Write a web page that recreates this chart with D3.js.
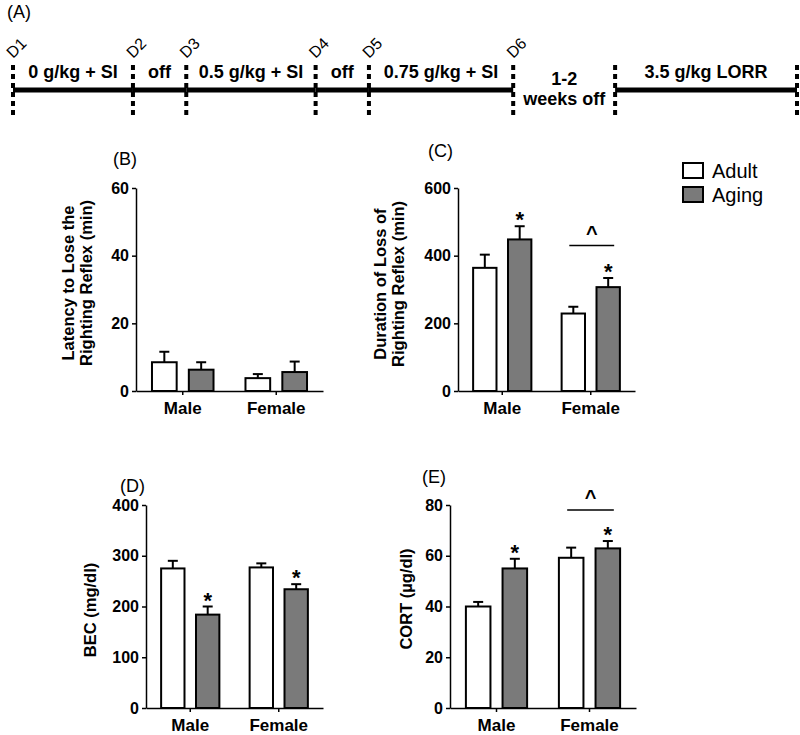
<!DOCTYPE html>
<html>
<head>
<meta charset="utf-8">
<script src="https://cdn.jsdelivr.net/npm/d3@7"></script>
<style>
  body { margin: 0; background: #fff; }
  text { font-family: Arial, "Liberation Sans", sans-serif; fill: #000; font-weight: bold; }
  .tick text { font-size: 16px; }
  .xAxis .tick text { font-size: 17px; }
</style>
</head>
<body>
<svg id="fig" width="800" height="735"></svg>
<script>
// ---- data ----
const sexes = ['Male', 'Female']
const ages = ['Adult', 'Aging']

// [adult, aging] for each sex
const latencyMean = [[8.5, 6.3], [3.8, 5.6]]
const latencySem = [[3.1, 2.2], [1.2, 3.1]]
const latencyStar = [[0, 0], [0, 0]]

const durationMean = [[364, 448], [229, 307]]
const durationSem = [[39, 39], [20, 27]]
const durationStar = [[0, 1], [0, 1]]
const durationBracket = ['Female', 430]

const becMean = [[275, 184], [277, 234]]
const becSem = [[15, 16], [8, 10]]
const becStar = [[0, 1], [0, 1]]

const cortMean = [[40, 55], [59.2, 62.9]]
const cortSem = [[1.8, 3.8], [4, 2.9]]
const cortStar = [[0, 1], [0, 1]]
const cortBracket = ['Female', 78]

// timeline (A): stops in percent of the line length
const dayLabels = ['D1', 'D2', 'D3', 'D4', 'D5', 'D6']
const timeStops = [0, 15.3, 22.1, 38.6, 45.4, 63.8, 76.8, 100]
const timeSegments = ['0 g/kg + SI', 'off', '0.5 g/kg + SI', 'off', '0.75 g/kg + SI', '1-2|weeks off', '3.5 g/kg LORR']
const solidSegments = [1, 1, 1, 1, 1, 0, 1]

const ageColor = d3.scaleOrdinal().domain(ages).range(['#ffffff', '#7a7a7a'])

const svg = d3.select('#fig')

// ---- panel A ----
function timeline() {
  const t = d3.scaleLinear().domain([0, 100]).range([13, 797])
  const g = svg.append('g')

  g.append('text').attr('x', 7).attr('y', 18).style('font-size', '18px').style('font-weight', 'normal').text('(A)')

  g.selectAll('line.seg')
    .data(timeSegments.map((d, i) => i).filter(i => solidSegments[i]))
    .enter().append('line')
    .attr('class', 'seg')
    .attr('x1', i => t(timeStops[i]))
    .attr('x2', i => t(timeStops[i + 1]))
    .attr('y1', 90).attr('y2', 90)
    .attr('stroke', '#000').attr('stroke-width', 5)

  g.selectAll('line.stop')
    .data(timeStops)
    .enter().append('line')
    .attr('class', 'stop')
    .attr('x1', d => t(d)).attr('x2', d => t(d))
    .attr('y1', 65).attr('y2', 117)
    .attr('stroke', '#000').attr('stroke-width', 4)
    .attr('stroke-dasharray', '5,4')

  g.selectAll('text.day')
    .data(dayLabels)
    .enter().append('text')
    .attr('class', 'day')
    .attr('transform', (d, i) => `translate(${t(timeStops[i])},59) rotate(-45)`)
    .style('font-size', '16px').style('font-weight', 'normal')
    .text(d => d)

  timeSegments.forEach((s, i) => {
    const cx = (t(timeStops[i]) + t(timeStops[i + 1])) / 2
    const lines = s.split('|')
    lines.forEach((l, j) => {
      g.append('text')
        .attr('x', cx)
        .attr('y', lines.length > 1 ? 85 + j * 20 : 78)
        .attr('text-anchor', 'middle')
        .style('font-size', '18px')
        .text(l)
    })
  })
}

// ---- bar panels ----
function barPanel(opt) {
  const g = svg.append('g')
  const x = d3.scaleBand().domain(sexes).range([opt.left, opt.right]).paddingInner(0.2).paddingOuter(0.1)
  const xi = d3.scaleBand().domain(ages).range([0, x.bandwidth()]).paddingInner(0.33).paddingOuter(0.18)
  const y = d3.scaleLinear().domain([0, opt.max]).range([opt.bottom, opt.top])

  const rows = []
  sexes.forEach((s, i) => ages.forEach((a, j) => {
    rows.push({ sex: s, age: a, mean: opt.mean[i][j], sem: opt.sem[i][j], star: opt.star[i][j] })
  }))
  const cx = d => x(d.sex) + xi(d.age) + xi.bandwidth() / 2

  // axes
  g.append('g')
    .attr('class', 'yAxis')
    .attr('transform', `translate(${opt.left},0)`)
    .call(d3.axisLeft(y).tickValues(opt.ticks).tickSize(4).tickSizeOuter(0).tickPadding(3))
    .call(a => a.attr('font-size', null).attr('font-family', null))
    .call(a => a.selectAll('path,line').attr('stroke-width', 1.5))

  g.append('g')
    .attr('class', 'xAxis')
    .attr('transform', `translate(0,${opt.bottom})`)
    .call(d3.axisBottom(x).tickSize(4).tickSizeOuter(0).tickPadding(7))
    .call(a => a.attr('font-size', null).attr('font-family', null))
    .call(a => a.selectAll('path,line').attr('stroke-width', 1.5))

  // error whiskers
  g.selectAll('line.err').data(rows).enter().append('line')
    .attr('x1', cx).attr('x2', cx)
    .attr('y1', d => y(d.mean)).attr('y2', d => y(d.mean + d.sem))
    .attr('stroke', '#000').attr('stroke-width', 2)
  g.selectAll('line.cap').data(rows).enter().append('line')
    .attr('x1', d => cx(d) - 5).attr('x2', d => cx(d) + 5)
    .attr('y1', d => y(d.mean + d.sem)).attr('y2', d => y(d.mean + d.sem))
    .attr('stroke', '#000').attr('stroke-width', 2)

  // bars
  g.selectAll('rect').data(rows).enter().append('rect')
    .attr('x', d => x(d.sex) + xi(d.age))
    .attr('width', xi.bandwidth())
    .attr('y', d => y(d.mean))
    .attr('height', d => y(0) - y(d.mean))
    .attr('fill', d => ageColor(d.age))
    .attr('stroke', '#000').attr('stroke-width', 2)

  // significance stars
  g.selectAll('text.star').data(rows.filter(d => d.star)).enter().append('text')
    .attr('x', cx)
    .attr('y', d => y(d.mean + d.sem) + 1)
    .attr('text-anchor', 'middle')
    .style('font-size', '22px')
    .text('*')

  if (opt.bracket) {
    const [sex, level] = opt.bracket
    const x1 = x(sex) + xi('Adult') + xi.bandwidth() / 2 - 4
    const x2 = x(sex) + xi('Aging') + xi.bandwidth() / 2 + 6
    g.append('line')
      .attr('x1', x1).attr('x2', x2)
      .attr('y1', y(level)).attr('y2', y(level))
      .attr('stroke', '#000').attr('stroke-width', 1.5)
    g.append('text')
      .attr('x', (x1 + x2) / 2).attr('y', y(level) - 6)
      .attr('text-anchor', 'middle')
      .style('font-size', '20px')
      .text('^')
  }

  // titles
  g.append('text').attr('x', opt.tag[1]).attr('y', opt.tag[2]).style('font-size', '18px').style('font-weight', 'normal').text(opt.tag[0])
  opt.ylab.forEach((l, i) => {
    g.append('text')
      .attr('transform', `translate(${opt.ylabX[i]},${opt.ylabY}) rotate(-90)`)
      .attr('text-anchor', 'middle')
      .style('font-size', '16.5px')
      .text(l)
  })
}

function legend() {
  const g = svg.append('g')
  ages.forEach((a, i) => {
    g.append('rect')
      .attr('x', 683).attr('y', 163 + i * 24)
      .attr('width', 20).attr('height', 15)
      .attr('fill', ageColor(a)).attr('stroke', '#000').attr('stroke-width', 2)
    g.append('text')
      .attr('x', 712).attr('y', 178 + i * 24)
      .style('font-size', '20px').style('font-weight', 'normal')
      .text(a)
  })
}

timeline()

barPanel({
  left: 136, right: 323, top: 188, bottom: 391, max: 60, ticks: [0, 20, 40, 60],
  mean: latencyMean, sem: latencySem, star: latencyStar,
  tag: ['(B)', 113, 165],
  ylab: ['Latency to Lose the', 'Righting Reflex (min)'], ylabX: [73.5, 92], ylabY: 283
})

barPanel({
  left: 458, right: 635, top: 188, bottom: 391, max: 600, ticks: [0, 200, 400, 600],
  mean: durationMean, sem: durationSem, star: durationStar, bracket: durationBracket,
  tag: ['(C)', 428, 157],
  ylab: ['Duration of Loss of', 'Righting Reflex (min)'], ylabX: [386, 404], ylabY: 284
})

barPanel({
  left: 146, right: 323, top: 505, bottom: 708, max: 400, ticks: [0, 100, 200, 300, 400],
  mean: becMean, sem: becSem, star: becStar,
  tag: ['(D)', 120, 492],
  ylab: ['BEC (mg/dl)'], ylabX: [95.5], ylabY: 610
})

barPanel({
  left: 450, right: 636, top: 505, bottom: 708, max: 80, ticks: [0, 20, 40, 60, 80],
  mean: cortMean, sem: cortSem, star: cortStar, bracket: cortBracket,
  tag: ['(E)', 422, 483],
  ylab: ['CORT (\u00b5g/dl)'], ylabX: [411.5], ylabY: 599
})

legend()
</script>
</body>
</html>
